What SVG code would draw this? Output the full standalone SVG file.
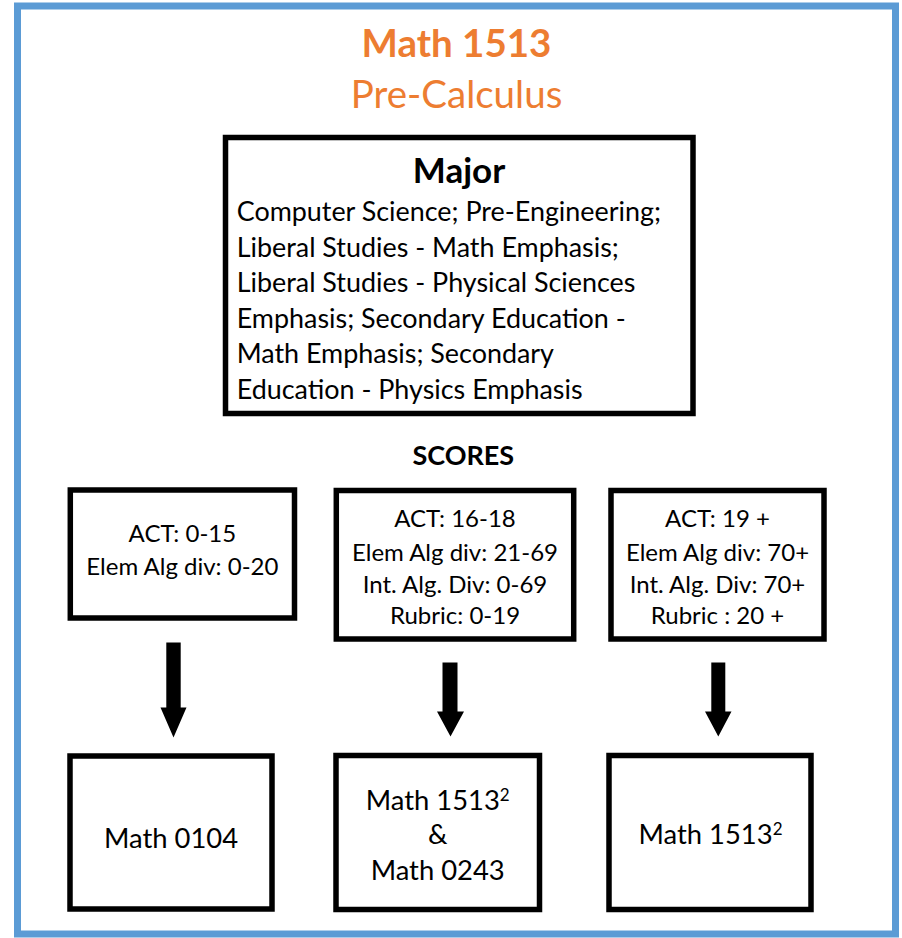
<svg xmlns="http://www.w3.org/2000/svg" width="902" height="938" viewBox="0 0 902 938">
  <style>
    text { font-family: Lato, "Liberation Sans", sans-serif; fill: #000; }
    .title { fill: #ED7D31; font-size: 38.5px; text-anchor: middle; }
    .bold { font-weight: bold; }
    .box { fill: #fff; stroke: #000; stroke-width: 5.5; }
    .body { font-size: 26.9px; }
    .score { font-size: 24px; text-anchor: middle; }
    .course { font-size: 27.4px; text-anchor: middle; }
    .sup { font-size: 17px; }
    .arrow { fill: #000; }
  </style>
  <rect x="0" y="0" width="902" height="938" fill="#fff"/>
  <rect id="frame" x="17.5" y="6" width="878" height="928" fill="none" stroke="#5B9BD5" stroke-width="7"/>

  <g id="title">
    <text class="title bold" x="456.5" y="56.7">Math 1513</text>
    <text class="title" x="456.5" y="108.3">Pre-Calculus</text>
  </g>

  <g id="major">
    <rect class="box" x="225.5" y="137.5" width="467.5" height="276"/>
    <text class="bold" x="459" y="183.3" font-size="35" text-anchor="middle">Major</text>
    <text class="body" x="236.7" y="221">Computer Science; Pre-Engineering;</text>
    <text class="body" x="236.7" y="256.6">Liberal Studies - Math Emphasis;</text>
    <text class="body" x="236.7" y="292.2">Liberal Studies - Physical Sciences</text>
    <text class="body" x="236.7" y="327.8">Emphasis; Secondary Education -</text>
    <text class="body" x="236.7" y="363.4">Math Emphasis; Secondary</text>
    <text class="body" x="236.7" y="399">Education - Physics Emphasis</text>
  </g>

  <g id="scores-label">
    <text class="bold" x="463.3" y="465" font-size="27" text-anchor="middle">SCORES</text>
  </g>

  <g id="score-low">
    <rect class="box" x="70.3" y="490" width="224.2" height="128"/>
    <text class="score" x="182.4" y="542.3">ACT: 0-15</text>
    <text class="score" x="182.4" y="575">Elem Alg div: 0-20</text>
  </g>

  <g id="score-mid">
    <rect class="box" x="336.3" y="490.5" width="237.4" height="148.5"/>
    <text class="score" x="455" y="527.3">ACT: 16-18</text>
    <text class="score" x="455" y="560.7">Elem Alg div: 21-69</text>
    <text class="score" x="455" y="592.7">Int. Alg. Div: 0-69</text>
    <text class="score" x="455" y="624.3">Rubric: 0-19</text>
  </g>

  <g id="score-high">
    <rect class="box" x="611" y="490.5" width="213" height="148.5"/>
    <text class="score" x="717.5" y="527.3">ACT: 19 +</text>
    <text class="score" x="717.5" y="560.7">Elem Alg div: 70+</text>
    <text class="score" x="717.5" y="592.7">Int. Alg. Div: 70+</text>
    <text class="score" x="717.5" y="624.3">Rubric : 20 +</text>
  </g>

  <g id="connectors">
    <path class="arrow" d="M166.3 642.5 H180.7 V707.5 H186.5 L173.5 737.5 L160.5 707.5 H166.3 Z"/>
    <path class="arrow" d="M442.5 662.5 H457.5 V711.5 H464 L450.5 736.5 L437 711.5 H442.5 Z"/>
    <path class="arrow" d="M711.3 662.5 H725.3 V711.5 H731.5 L718.3 736.5 L705 711.5 H711.3 Z"/>
  </g>

  <g id="course-0104">
    <rect class="box" x="70" y="756" width="202" height="153"/>
    <text class="course" x="171" y="847.7" font-size="30">Math 0104</text>
  </g>

  <g id="course-1513-0243">
    <rect class="box" x="336" y="755.5" width="203.5" height="154"/>
    <text class="course" x="437.7" y="810">Math 1513<tspan class="sup" dy="-9">2</tspan></text>
    <text class="course" x="437.7" y="844">&amp;</text>
    <text class="course" x="437.7" y="880">Math 0243</text>
  </g>

  <g id="course-1513">
    <rect class="box" x="609" y="755.5" width="202" height="154"/>
    <text class="course" x="710.5" y="844">Math 1513<tspan class="sup" dy="-9">2</tspan></text>
  </g>
</svg>
